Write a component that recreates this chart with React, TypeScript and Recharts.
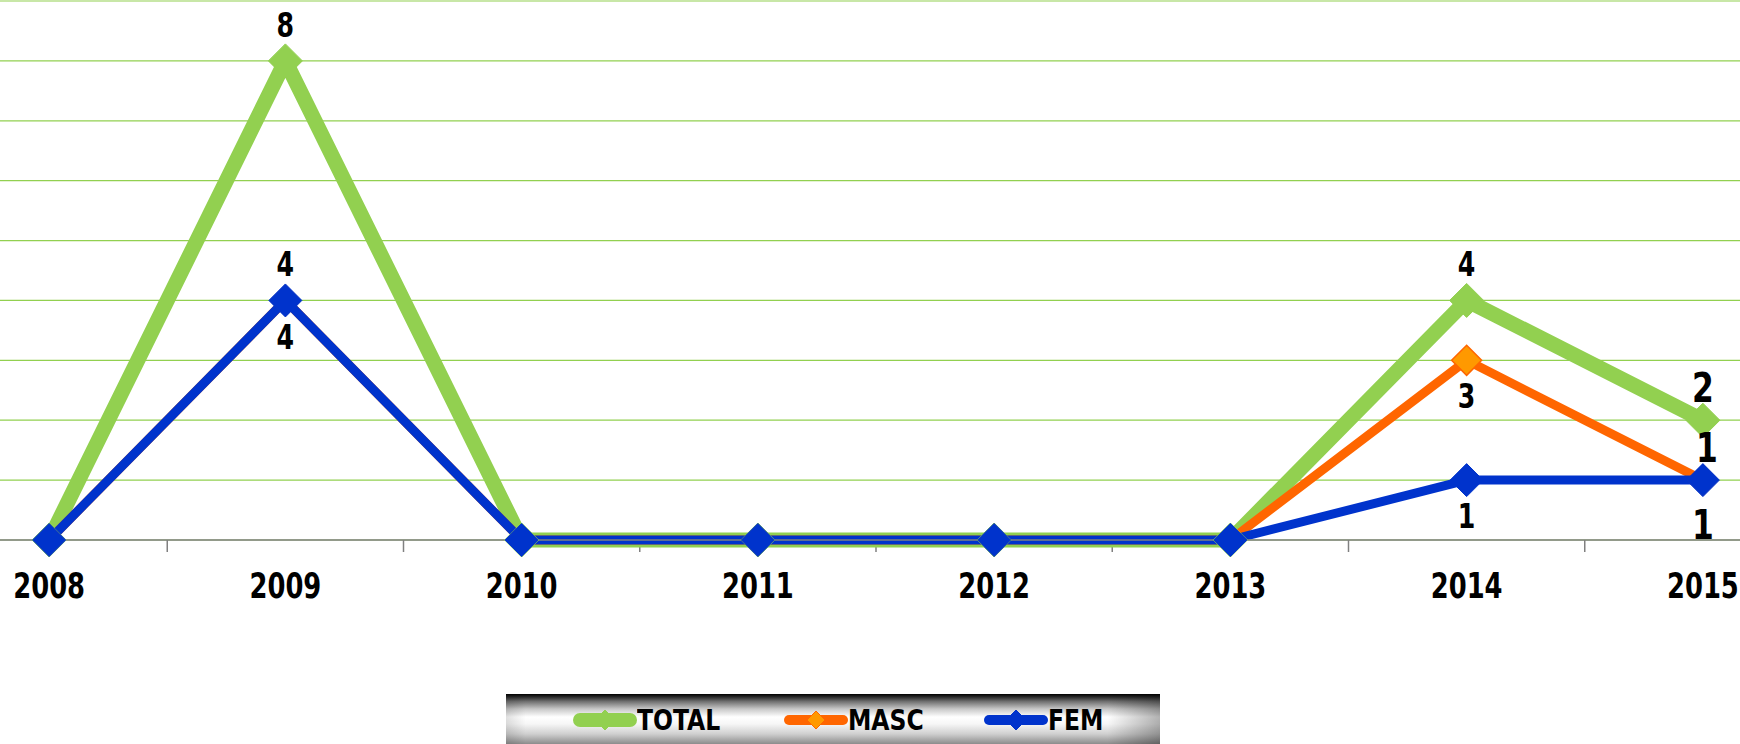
import React from 'react';
import {
  LineChart,
  Line,
  XAxis,
  YAxis,
  CartesianGrid,
  LabelList,
  Legend,
  ReferenceLine,
} from 'recharts';

// ---------- data ----------
const years = [2008, 2009, 2010, 2011, 2012, 2013, 2014, 2015];
const totalValues = [0, 8, 0, 0, 0, 0, 4, 2];
const mascValues = [0, 4, 0, 0, 0, 0, 3, 1];
const femValues = [0, 4, 0, 0, 0, 0, 1, 1];
const yTicks = [0, 1, 2, 3, 4, 5, 6, 7, 8, 9];
const betweenTicks = [2008.5, 2009.5, 2010.5, 2011.5, 2012.5, 2013.5, 2014.5];

const data = years.map((y, i) => ({
  year: y,
  total: totalValues[i],
  masc: mascValues[i],
  fem: femValues[i],
}));

// ---------- styling ----------
const FONT = "'DejaVu Sans Condensed', 'Liberation Sans Narrow', sans-serif";
const GREEN = '#92D050';
const ORANGE = '#FF6600';
const ORANGE_FILL = '#FF9900';
const BLUE = '#0033CC';

type Placement = 'above' | 'below';
const labelPlacement: Record<string, Record<number, Placement>> = {
  total: {},
  masc: { 2009: 'above', 2014: 'below', 2015: 'above' },
  fem: {},
};
const defaultPlacement: Record<string, Placement> = { total: 'above', masc: 'below', fem: 'below' };
const labelDx: Record<string, Record<number, number>> = { total: {}, masc: { 2015: 4 }, fem: {} };
const largeLabelYears = [2015];

const NarrowText = ({ x, y, size, sx, children }: any) => (
  <text
    transform={`translate(${x},${y}) scale(${sx},1)`}
    x={0}
    y={0}
    textAnchor="middle"
    fontFamily={FONT}
    fontWeight={700}
    fontSize={size}
    fill="#000"
  >
    {children}
  </text>
);

const makeLabel = (key: string) => (props: any) => {
  const { x, y, value, index } = props;
  if (!value) return null;
  const year = years[index];
  const big = largeLabelYears.includes(year);
  const fs = big ? 41 : 33;
  const cap = fs * 0.73;
  const place = labelPlacement[key][year] || defaultPlacement[key];
  const by = place === 'above' ? y - (big ? 18 : 24) : y + (big ? 29 : 24) + cap;
  const dx = labelDx[key][year] || 0;
  return (
    <NarrowText key={`${key}-lbl-${index}`} x={x + dx} y={by} size={fs} sx={0.85}>
      {value}
    </NarrowText>
  );
};

const makeDot = (r: number, fill: string, stroke: string, sw: number) => (props: any) => {
  const { cx, cy, index } = props;
  if (cx == null || cy == null) return <g key={`d-${index}`} />;
  return (
    <polygon
      key={`d-${fill}-${index}`}
      points={`${cx},${cy - r} ${cx + r},${cy} ${cx},${cy + r} ${cx - r},${cy}`}
      fill={fill}
      stroke={stroke}
      strokeWidth={sw}
    />
  );
};

const legendItems = [
  { name: 'TOTAL', color: GREEN, width: 14, fill: GREEN, stroke: GREEN, r: 10, left: 67 },
  { name: 'MASC', color: ORANGE, width: 10, fill: ORANGE_FILL, stroke: ORANGE, r: 9, left: 278 },
  { name: 'FEM', color: BLUE, width: 10, fill: BLUE, stroke: BLUE, r: 10, left: 478 },
];

const renderLegend = () => (
  <div
    style={{
      position: 'relative',
      width: 654,
      height: 50,
      background:
        'linear-gradient(to right, rgba(0,0,0,0.12), rgba(0,0,0,0) 3%, rgba(0,0,0,0) 92%, rgba(0,0,0,0.3)), linear-gradient(to bottom, #000 0%, #2a2a2a 6%, #707070 15%, #c8c8c8 30%, #ffffff 46%, #f6f6f6 60%, #cfcfcf 80%, #8c8c8c 100%)',
    }}
  >
    {legendItems.map((it) => (
      <div
        key={it.name}
        style={{
          position: 'absolute',
          left: it.left,
          top: 0,
          height: 52,
          display: 'flex',
          alignItems: 'center',
        }}
      >
        <svg width={64} height={26} style={{ display: 'block' }}>
          <line
            x1={it.width / 2}
            y1={13}
            x2={64 - it.width / 2}
            y2={13}
            stroke={it.color}
            strokeWidth={it.width}
            strokeLinecap="round"
          />
          <polygon
            points={`32,${13 - it.r} ${32 + it.r},13 32,${13 + it.r} ${32 - it.r},13`}
            fill={it.fill}
            stroke={it.stroke}
            strokeWidth={1}
          />
        </svg>
        <span
          style={{
            display: 'inline-block',
            fontFamily: FONT,
            fontWeight: 700,
            fontSize: 29,
            color: '#000',
            lineHeight: '29px',
            transform: 'scaleX(0.9)',
            transformOrigin: 'left center',
            whiteSpace: 'nowrap',
          }}
        >
          {it.name}
        </span>
      </div>
    ))}
  </div>
);

const renderTick = (props: any) => {
  const { x, y, payload } = props;
  return (
    <NarrowText x={x} y={y + 58} size={35} sx={0.82}>
      {payload.value}
    </NarrowText>
  );
};

export default function App() {
  return (
    <div
      style={{
        position: 'absolute',
        left: 0,
        top: 0,
        width: 1740,
        height: 744,
        overflow: 'hidden',
        background: '#fff',
      }}
    >
      <div style={{ position: 'absolute', left: -69, top: 0 }}>
        <LineChart
          width={1890}
          height={744}
          data={data}
          margin={{ top: 1, right: 0, bottom: 144, left: 0 }}
        >
          <CartesianGrid vertical={false} stroke={GREEN} strokeWidth={1.2} />
          <XAxis
            dataKey="year"
            type="number"
            domain={[2007.5, 2015.5]}
            ticks={years}
            height={60}
            tickLine={false}
            tickSize={0}
            tickMargin={0}
            axisLine={{ stroke: '#808080', strokeWidth: 1.5 }}
            tick={renderTick}
            interval={0}
          />
          <YAxis hide domain={[0, 9]} ticks={yTicks} type="number" />
          {betweenTicks.map((t) => (
            <ReferenceLine
              key={t}
              segment={[
                { x: t, y: 0 },
                { x: t, y: -0.2 },
              ]}
              stroke="#808080"
              strokeWidth={1.5}
              ifOverflow="visible"
            />
          ))}
          <Line
            dataKey="total"
            name="TOTAL"
            stroke={GREEN}
            strokeWidth={15}
            strokeLinejoin="round"
            dot={makeDot(17, GREEN, GREEN, 1)}
            activeDot={false}
            isAnimationActive={false}
          >
            <LabelList dataKey="total" content={makeLabel('total')} />
          </Line>
          <Line
            dataKey="masc"
            name="MASC"
            stroke={ORANGE}
            strokeWidth={9}
            strokeLinejoin="round"
            dot={makeDot(15, ORANGE_FILL, ORANGE, 1.5)}
            activeDot={false}
            isAnimationActive={false}
          >
            <LabelList dataKey="masc" content={makeLabel('masc')} />
          </Line>
          <Line
            dataKey="fem"
            name="FEM"
            stroke={BLUE}
            strokeWidth={9}
            strokeLinejoin="round"
            dot={makeDot(16.5, BLUE, BLUE, 1)}
            activeDot={false}
            isAnimationActive={false}
          >
            <LabelList dataKey="fem" content={makeLabel('fem')} />
          </Line>
          <Legend
            layout="horizontal"
            verticalAlign="middle"
            align="center"
            content={renderLegend}
            wrapperStyle={{ left: 506 + 69, top: 694, width: 654, height: 50 }}
          />
        </LineChart>
      </div>
    </div>
  );
}
